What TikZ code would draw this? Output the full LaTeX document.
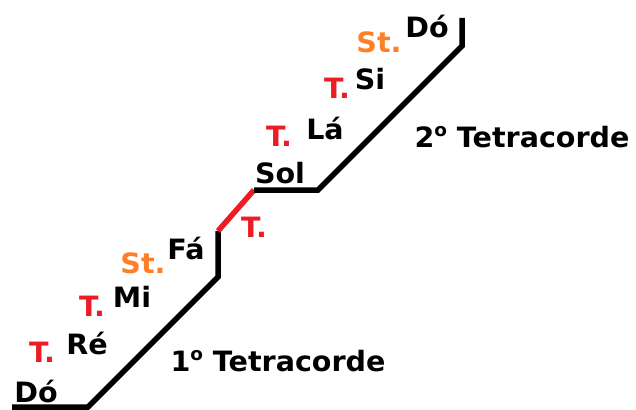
\documentclass[tikz,border=0pt]{standalone}
\usepackage{fontspec}
\setmainfont{DejaVu Sans}[BoldFeatures={FakeStretch=1.02}]
\usetikzlibrary{positioning}
\definecolor{tomred}{HTML}{ED1C24}
\definecolor{semiorange}{HTML}{FF7F27}
\newcommand{\ordinalo}{\raisebox{.38em}{\fontsize{18}{18}\selectfont o}}

\begin{document}
\begin{tikzpicture}[x=1pt,y=-1pt,line cap=butt,line join=miter,
  nota/.style={font=\fontsize{28}{30}\selectfont\bfseries,inner sep=0pt,text=black},
  tom/.style={nota,text=tomred},
  semitom/.style={nota,text=semiorange},
  degrau/.style={draw=black,line width=5.5pt}]
\path[use as bounding box] (0,0) rectangle (636,409);
% corners of the staircase
\coordinate (c0) at (12,407);
\coordinate (c1) at (88,407);
\coordinate (c2) at (218,277);
\coordinate (c3) at (218,231);
\coordinate (c4) at (254,190);
\coordinate (c5) at (318,190);
\coordinate (c6) at (462,46);
\coordinate (c7) at (462,18);
\draw[degrau] (c0) -- (c1) -- (c2) -- (c3);
\draw[degrau,draw=tomred] (c3) -- (c4);
\draw[degrau] (c4) -- (c5) -- (c6) -- (c7);
% notes
\node[nota] (do1) at (36,391) {Dó};
\node[tom] (t1) at (42,352) {T.};
\node[nota] (re) at (87,343) {Ré};
\node[tom] (t2) at (92,306) {T.};
\node[nota] (mi) at (132,297) {Mi};
\node[semitom] (st1) at (143,263) {St.};
\node[nota] (fa) at (186,248) {Fá};
\node[tom] (t3) at (254,227) {T.};
\node[nota] (sol) at (280,173) {Sol};
\node[tom] (t4) at (279,136) {T.};
\node[nota] (la) at (325,128) {Lá};
\node[tom] (t5) at (337,88) {T.};
\node[nota] (si) at (370,79) {Si};
\node[semitom] (st2) at (379,42) {St.};
\node[nota] (do2) at (427,27) {Dó};
% tetrachords
\node[nota] (tetra1) at (278,361) {1\ordinalo\ Tetracorde};
\node[nota] (tetra2) at (522,137) {2\ordinalo\ Tetracorde};
\end{tikzpicture}
\end{document}
